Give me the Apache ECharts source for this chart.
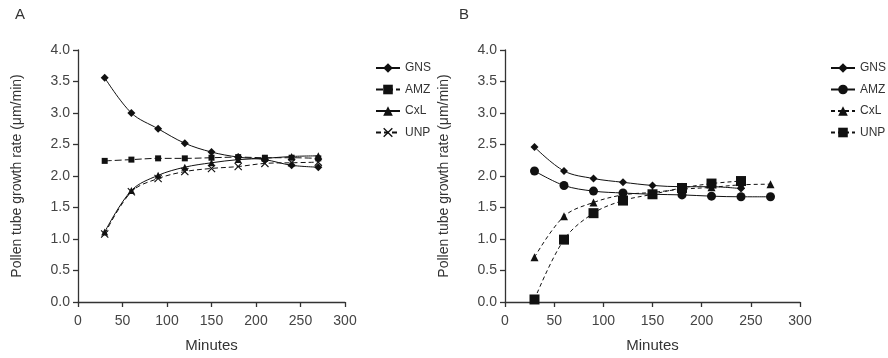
<!DOCTYPE html>
<html>
<head>
<meta charset="utf-8">
<script src="https://cdn.jsdelivr.net/npm/echarts@6/dist/echarts.min.js"></script>
<style>
  html, body { margin: 0; padding: 0; background: #fff; }
  #chart { width: 888px; height: 358px; }
</style>
</head>
<body>
<div id="chart"></div>
<script>
// sampling times (minutes)
var minutes = [30, 60, 90, 120, 150, 180, 210, 240, 270];
var seriesNames = ['GNS', 'AMZ', 'CxL', 'UNP'];
var yTicks = [0, 0.5, 1, 1.5, 2, 2.5, 3, 3.5, 4];

// panel A
var gnsA = [3.56, 3.00, 2.75, 2.52, 2.38, 2.30, 2.26, 2.17, 2.14];
var amzA = [2.24, 2.26, 2.28, 2.28, 2.29, 2.30, 2.29, 2.29, 2.28];
var cxlA = [1.11, 1.77, 2.01, 2.14, 2.21, 2.26, 2.28, 2.31, 2.32];
var unpA = [1.08, 1.75, 1.96, 2.07, 2.12, 2.15, 2.20, 2.21, 2.22];

// panel B
var gnsB = [2.46, 2.08, 1.96, 1.90, 1.85, 1.83, 1.83, 1.80];
var amzB = [2.08, 1.85, 1.76, 1.73, 1.71, 1.70, 1.68, 1.67, 1.67];
var cxlB = [0.71, 1.36, 1.58, 1.70, 1.74, 1.79, 1.82, 1.86, 1.87];
var unpB = [0.04, 0.99, 1.41, 1.61, 1.71, 1.81, 1.88, 1.92];

var FONT = '"Liberation Sans Narrow", "Liberation Sans", Arial, sans-serif';
var crossSymbol = 'path://M0,1L1,0L5,4L9,0L10,1L6,5L10,9L9,10L5,6L1,10L0,9L4,5Z';

function pairs(vals) {
    return vals.map(function (v, i) { return [minutes[i], v]; });
}

function makeLine(panel, name, vals, idx, symbol, size, dash) {
    return {
        name: panel + '-' + name,
        type: 'line',
        xAxisIndex: idx,
        yAxisIndex: idx,
        smooth: 0.35,
        symbol: symbol,
        symbolSize: size,
        lineStyle: { color: '#111', width: 1, type: dash },
        itemStyle: { color: '#111' },
        data: pairs(vals)
    };
}

function xAxisOf(idx) {
    return {
        gridIndex: idx,
        type: 'value',
        min: 0, max: 300, interval: 50,
        name: 'Minutes',
        nameLocation: 'middle',
        nameGap: 36,
        nameTextStyle: { fontFamily: FONT, fontSize: 15, color: '#333' },
        axisLine: { lineStyle: { color: '#333', width: 1.3 } },
        axisTick: { length: 5, lineStyle: { color: '#333', width: 1.3 } },
        axisLabel: { fontFamily: FONT, fontSize: 14, color: '#444', margin: 12 },
        splitLine: { show: false }
    };
}

function yAxisOf(idx) {
    return {
        gridIndex: idx,
        type: 'value',
        min: 0, max: 4, interval: 0.5,
        name: 'Pollen tube growth rate (\u03bcm/min)',
        nameLocation: 'middle',
        nameGap: 54,
        nameTextStyle: { fontFamily: FONT, fontSize: 14, color: '#333' },
        axisLine: { show: true, lineStyle: { color: '#333', width: 1.3 } },
        axisTick: { show: true, length: 5, lineStyle: { color: '#333', width: 1.3 } },
        axisLabel: {
            fontFamily: FONT, fontSize: 14, color: '#444', margin: 8,
            formatter: function (v) { return v.toFixed(1); }
        },
        splitLine: { show: false }
    };
}

function legendOf(panel, left) {
    return {
        orient: 'vertical',
        left: left,
        top: 57,
        itemWidth: 24,
        itemHeight: 12,
        itemGap: 9.5,
        data: seriesNames.map(function (n) { return panel + '-' + n; }),
        formatter: function (n) { return n.split('-')[1]; },
        textStyle: { fontFamily: FONT, fontSize: 12, color: '#333' }
    };
}

var chart = echarts.init(document.getElementById('chart'));
var option = {
    animation: false,
    backgroundColor: '#fff',
    title: [
        { text: 'A', left: 10, top: 2, textStyle: { fontFamily: FONT, fontSize: 15, fontWeight: 'normal', color: '#333' } },
        { text: 'B', left: 454, top: 2, textStyle: { fontFamily: FONT, fontSize: 15, fontWeight: 'normal', color: '#333' } }
    ],
    grid: [
        { left: 78, right: 543, top: 50, bottom: 55 },
        { left: 505, right: 88, top: 50, bottom: 55 }
    ],
    legend: [legendOf('A', 370), legendOf('B', 825)],
    xAxis: [xAxisOf(0), xAxisOf(1)],
    yAxis: [yAxisOf(0), yAxisOf(1)],
    series: [
        makeLine('A', 'GNS', gnsA, 0, 'diamond', 8, 'solid'),
        makeLine('A', 'AMZ', amzA, 0, 'rect', 6, [7, 3]),
        makeLine('A', 'CxL', cxlA, 0, 'triangle', 7, 'solid'),
        makeLine('A', 'UNP', unpA, 0, crossSymbol, 8, [5, 3]),
        makeLine('B', 'GNS', gnsB, 1, 'diamond', 8, 'solid'),
        makeLine('B', 'AMZ', amzB, 1, 'circle', 9, 'solid'),
        makeLine('B', 'CxL', cxlB, 1, 'triangle', 8, [4, 3]),
        makeLine('B', 'UNP', unpB, 1, 'rect', 10, [4, 3])
    ]
};
chart.setOption(option);
window.addEventListener('resize', function () {
    chart.resize();
});
</script>
</body>
</html>
